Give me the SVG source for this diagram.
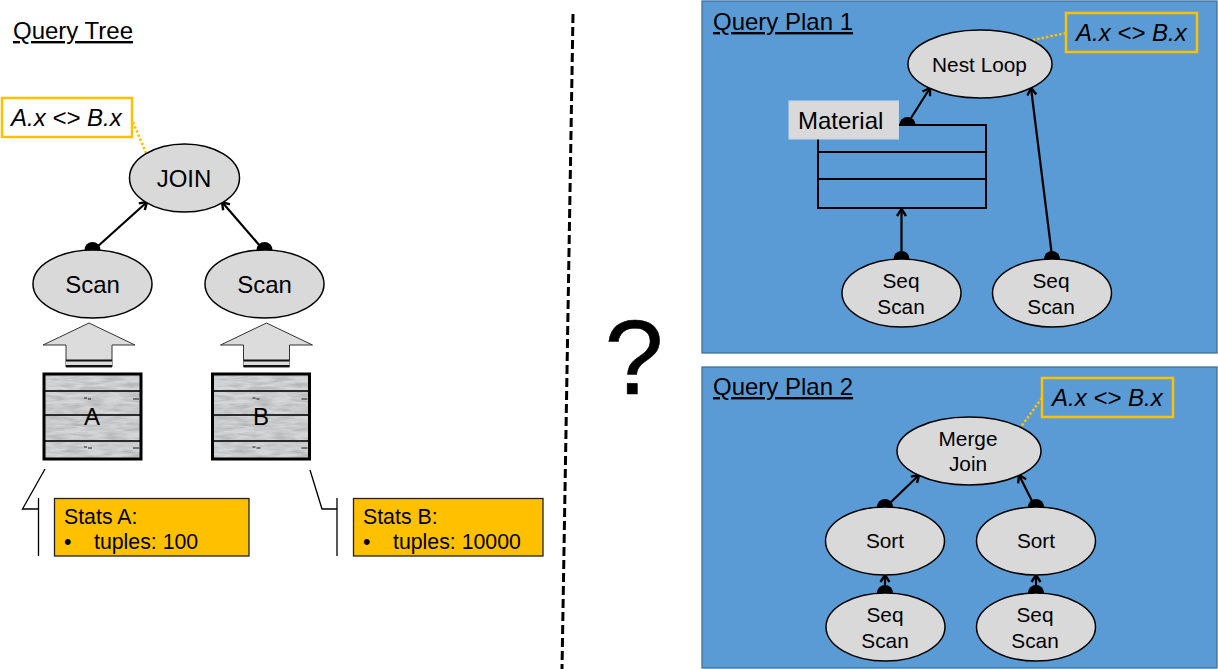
<svg xmlns="http://www.w3.org/2000/svg" width="1218" height="669" viewBox="0 0 1218 669">
<style>
text{font-family:"Liberation Sans",Arial,sans-serif;fill:#000;font-size:24px}
.m{text-anchor:middle}
.s{font-size:20.8px}
.st{font-size:21.3px}
.u{text-decoration:underline}
.i{font-style:italic}
.node{fill:#D9D9D9;stroke:#000;stroke-width:1.5}
.cond{fill:#fff;stroke:#FFC000;stroke-width:2.5}
.condb{fill:#5B9BD5;stroke:#FFC000;stroke-width:2.5}
.dot{fill:none;stroke:#FFC000;stroke-width:2.5;stroke-dasharray:2.5 2}
.edge{fill:none;stroke:#000;stroke-width:2.2;marker-end:url(#open)}
.plan{fill:#5B9BD5;stroke:#41719C;stroke-width:1.3}
.call{fill:none;stroke:#000;stroke-width:1.3}
.stat{fill:#FFC000;stroke:#222;stroke-width:1.3}
.arrow{fill:#DCDCDC;stroke:#333;stroke-width:1}
</style>
<defs>
<marker id="open" viewBox="0 0 12 12" refX="10.500" refY="6" markerWidth="12" markerHeight="12" markerUnits="userSpaceOnUse" orient="auto"><path d="M3.500 1.500L10.500 6L3.500 10.500" fill="none" stroke="#000" stroke-width="2.4"/></marker>
<path id="cap" d="M-8 0A8 8 0 0 1 8 0Z" fill="#000"/>
<filter id="wood" x="0" y="0" width="100%" height="100%"><feTurbulence type="fractalNoise" baseFrequency="0.05 0.3" numOctaves="4" seed="4"/><feColorMatrix values="0 0 0 0 0.42 0 0 0 0 0.43 0 0 0 0 0.44 1.6 0 0 0 -0.5"/></filter>
<g id="board">
<rect x="0" y="0" width="97" height="85" fill="#D4D6D7"/>
<rect x="0" y="0" width="97" height="85" fill="#9a9c9e" filter="url(#wood)"/>
<path d="M0 17H97M0 41H97M0 67H97" stroke="#2b2b2b" stroke-width="2"/>
<path d="M40 24h3M44 25h3M89 25h6M40 73h3M44 74h4M89 74h6" stroke="#555" stroke-width="1.5"/>
<rect x="0" y="0" width="97" height="85" fill="none" stroke="#000" stroke-width="3"/>
</g>
<g id="up">
<path d="M-46 22L0 0L46 22H23V44H-23V22Z" class="arrow"/>
<path d="M-23 37.500H23V44H-23Z" fill="#DDD"/>
<path d="M-23 37.500H23M-23 43H23" stroke="#111" stroke-width="2"/>
</g>
</defs>
<rect width="1218" height="669" fill="#fff"/>

<g id="query-tree-title"><text x="13" y="39" class="u">Query Tree</text></g>
<g id="divider"><path d="M573 14L562 669" fill="none" stroke="#000" stroke-width="3" stroke-dasharray="9 4"/></g>
<g id="question"><text x="634" y="394" class="m" style="font-size:106px;stroke:#000;stroke-width:.6">?</text></g>

<g id="plan1-bg"><rect x="702" y="1" width="515" height="352" class="plan"/><text x="713" y="30" class="u">Query Plan 1</text></g>
<g id="plan2-bg"><rect x="702" y="367" width="515" height="301" class="plan"/><text x="713" y="395" class="u">Query Plan 2</text></g>

<g id="connectors">
<use href="#cap" x="92.500" y="250"/><use href="#cap" x="264.500" y="250"/>
<path class="edge" d="M97 247L147 202"/>
<path class="edge" d="M260 246L222 202"/>
<path class="dot" d="M133 122L146 153"/>
<use href="#cap" x="907.500" y="125"/>
<path class="edge" d="M911 118L930 88"/>
<use href="#cap" x="901.500" y="259"/><use href="#cap" x="1052" y="259"/>
<path class="edge" d="M901.500 256V209"/>
<path class="edge" d="M1052 256L1031 88"/>
<path class="dot" d="M1066 33L1033 40"/>
<use href="#cap" x="885" y="507"/><use href="#cap" x="1036" y="507"/>
<path class="edge" d="M890 503L919 475"/>
<path class="edge" d="M1033 503L1019 475"/>
<use href="#cap" x="885" y="593"/><use href="#cap" x="1036" y="593"/>
<path class="edge" d="M885 592V575"/>
<path class="edge" d="M1036 592V575"/>
<path class="dot" d="M1042 398L1020 428"/>
<path class="call" d="M45 469L22.500 509H38.500M38.500 498V556"/>
<path class="call" d="M310 470L322 509H337M337 498V556"/>
</g>

<g id="cond-tree"><rect x="2" y="98" width="130" height="39" class="cond"/><text x="11" y="126" class="i">A.x &lt;&gt; B.x</text></g>
<g id="join"><ellipse cx="184.500" cy="178" rx="55" ry="34" class="node"/><text x="184" y="187" class="m">JOIN</text></g>
<g id="scan-a"><ellipse cx="92.500" cy="284" rx="59.500" ry="34" class="node"/><text x="92.500" y="293" class="m">Scan</text></g>
<g id="scan-b"><ellipse cx="264.500" cy="284" rx="59.500" ry="34" class="node"/><text x="264.500" y="293" class="m">Scan</text></g>
<g id="arrow-a"><use href="#up" x="89" y="323"/></g>
<g id="arrow-b"><use href="#up" x="266.500" y="323"/></g>
<g id="table-a"><use href="#board" x="44" y="374"/><text x="92" y="425" class="m">A</text></g>
<g id="table-b"><use href="#board" x="212.500" y="374"/><text x="261" y="425" class="m">B</text></g>
<g id="stats-a"><rect x="54.500" y="498.500" width="194.500" height="57.500" class="stat"/><text x="64" y="524" class="st">Stats A:</text><text x="64" y="549" class="st">•</text><text x="94" y="549" class="st">tuples: 100</text></g>
<g id="stats-b"><rect x="353.500" y="498.500" width="189.500" height="57.500" class="stat"/><text x="363" y="524" class="st">Stats B:</text><text x="363" y="549" class="st">•</text><text x="393" y="549" class="st">tuples: 10000</text></g>

<g id="nest-loop"><ellipse cx="980" cy="64" rx="72" ry="34" class="node"/><text x="979.500" y="72" class="m s">Nest Loop</text></g>
<g id="cond-plan1"><rect x="1066" y="13" width="131" height="39" class="condb"/><text x="1076" y="41" class="i">A.x &lt;&gt; B.x</text></g>
<g id="material-table"><path d="M818 125H986V208H818ZM818 152H986M818 179H986" fill="none" stroke="#000" stroke-width="2"/></g>
<g id="material-label"><rect x="789" y="101" width="109.500" height="38" fill="#D9D9D9" stroke="#C9D6E4" stroke-width="1"/><text x="798" y="129">Material</text></g>
<g id="seq-1"><ellipse cx="901.500" cy="293" rx="59.500" ry="34" class="node"/><text x="901" y="288" class="m s">Seq</text><text x="901" y="314" class="m s">Scan</text></g>
<g id="seq-2"><ellipse cx="1052" cy="293" rx="59.500" ry="34" class="node"/><text x="1051" y="288" class="m s">Seq</text><text x="1051" y="314" class="m s">Scan</text></g>

<g id="merge-join"><ellipse cx="969" cy="451" rx="72" ry="34" class="node"/><text x="968" y="446" class="m s">Merge</text><text x="968" y="471" class="m s">Join</text></g>
<g id="cond-plan2"><rect x="1042" y="378" width="131" height="39" class="condb"/><text x="1052" y="406" class="i">A.x &lt;&gt; B.x</text></g>
<g id="sort-1"><ellipse cx="885" cy="541" rx="59.500" ry="34" class="node"/><text x="885" y="548" class="m s">Sort</text></g>
<g id="sort-2"><ellipse cx="1036" cy="541" rx="59.500" ry="34" class="node"/><text x="1036" y="548" class="m s">Sort</text></g>
<g id="seq-3"><ellipse cx="885.500" cy="627" rx="59.500" ry="34" class="node"/><text x="885" y="622" class="m s">Seq</text><text x="885" y="648" class="m s">Scan</text></g>
<g id="seq-4"><ellipse cx="1036" cy="627" rx="59.500" ry="34" class="node"/><text x="1035" y="622" class="m s">Seq</text><text x="1035" y="648" class="m s">Scan</text></g>
</svg>
